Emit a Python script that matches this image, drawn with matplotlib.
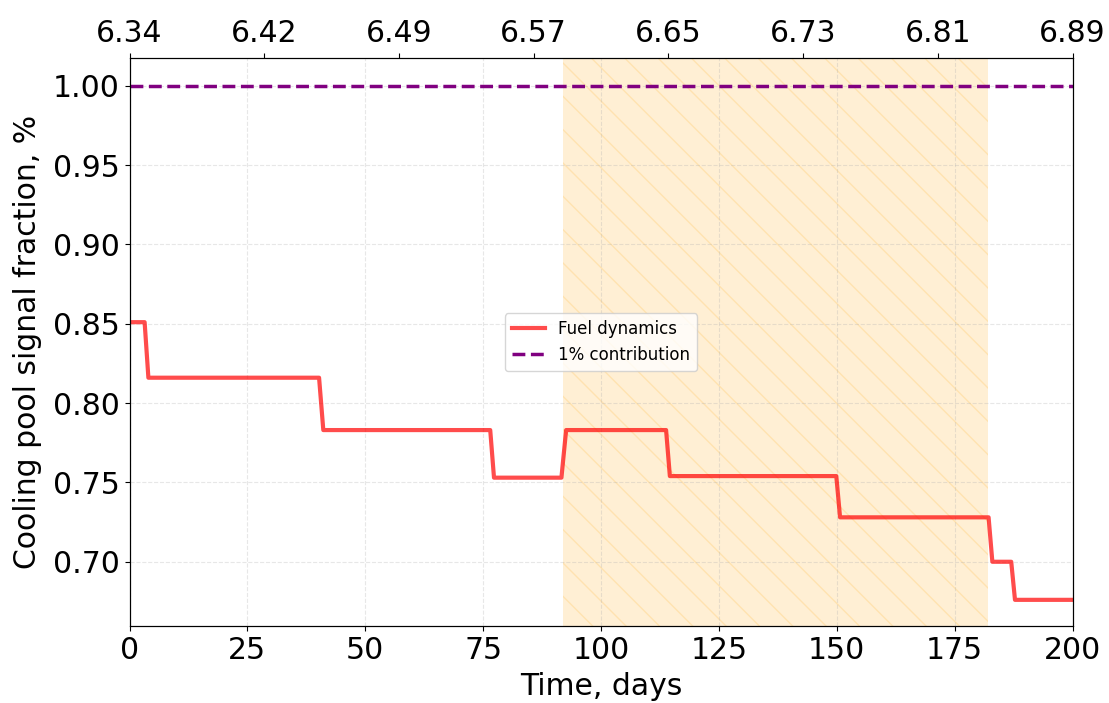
import matplotlib
matplotlib.use("Agg")
import matplotlib.pyplot as plt
import numpy as np

# step levels of the cooling pool signal fraction
levels = [0.851, 0.816, 0.783, 0.753, 0.783, 0.754, 0.728, 0.700, 0.676]
# each change starts at step_start[i] and ends at step_end[i]
step_start = [3.2, 40.2, 76.5, 91.6, 113.8, 149.9, 182.2, 187.0]
step_end = [4.0, 41.1, 77.3, 92.6, 114.6, 150.7, 183.0, 187.8]
t_min, t_max = 0, 200

reference_level = 1.0
shade_start, shade_end = 92, 182

top_labels = ["6.34", "6.42", "6.49", "6.57", "6.65", "6.73", "6.81", "6.89"]

# build the polyline
t = [t_min]
y = [levels[0]]
for i in range(len(step_start)):
    t += [step_start[i], step_end[i]]
    y += [levels[i], levels[i + 1]]
t.append(t_max)
y.append(levels[-1])

FS = 21.5

fig = plt.figure(figsize=(11.09, 7.03), dpi=100)
ax = fig.add_axes([0.1168, 0.1095, 0.8503, 0.8080])

ax.axvspan(shade_start, shade_end, facecolor='orange', edgecolor='orange',
           alpha=0.17, hatch='\\', linewidth=0)
ax.plot(t, y, color='red', alpha=0.7, linewidth=3, label='Fuel dynamics')
ax.axhline(reference_level, color='purple', linestyle='--', linewidth=2.5,
           label='1% contribution')

ax.set_xlim(t_min, t_max)
ax.set_ylim(0.6595, 1.0175)
ax.set_yticks([0.70, 0.75, 0.80, 0.85, 0.90, 0.95, 1.00])
ax.grid(True, linestyle='--', alpha=0.3)
ax.tick_params(labelsize=FS)
ax.set_xlabel("Time, days", fontsize=FS, labelpad=5)
ax.set_ylabel("Cooling pool signal fraction, %", fontsize=FS, labelpad=8)
ax.legend(loc='center', fontsize=12)

ax2 = ax.twiny()
ax2.set_xlim(ax.get_xlim())
ax2.set_xticks(np.linspace(t_min, t_max, len(top_labels)))
ax2.set_xticklabels(top_labels)
ax2.tick_params(labelsize=FS)

fig.savefig("out.png", dpi=100)
